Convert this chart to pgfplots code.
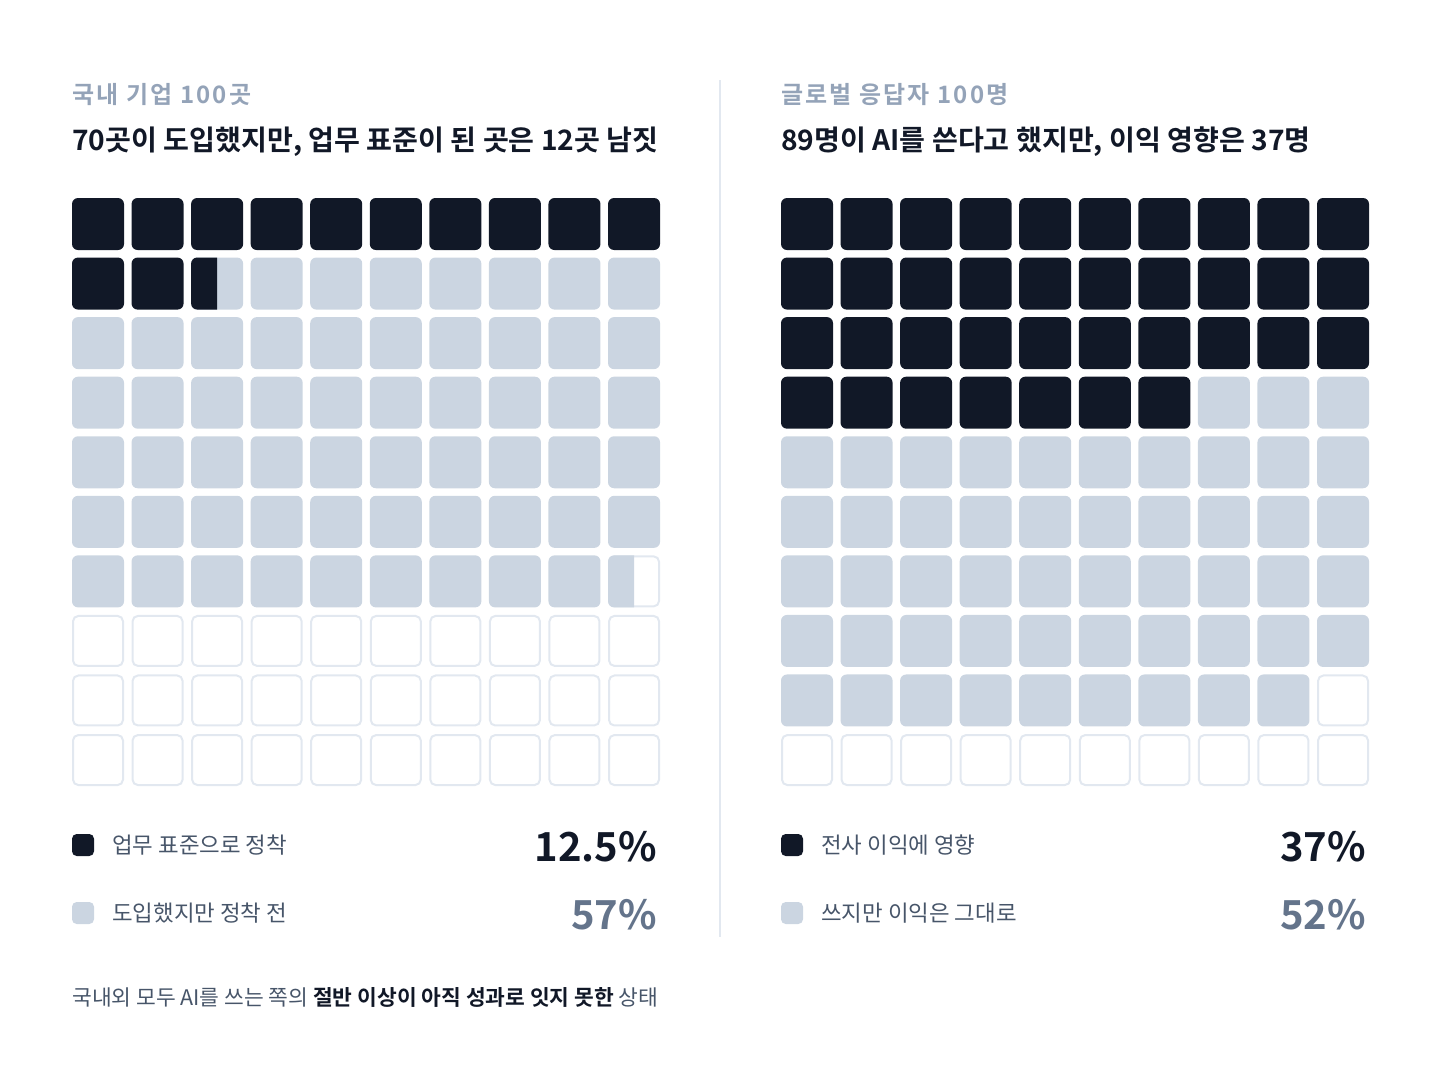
\documentclass[border=0pt]{standalone}
\usepackage{pgfplots}
\pgfplotsset{compat=1.18}
\usepackage{pgfplotstable}
\usepackage{fontspec}
\setmainfont{Noto Sans CJK KR}[BoldFont={Noto Sans CJK KR Bold}]
\definecolor{dark}{HTML}{111827}
\definecolor{lite}{HTML}{CBD5E1}
\definecolor{empt}{HTML}{E2E8F0}
\definecolor{subc}{HTML}{94A3B8}
\definecolor{legc}{HTML}{475569}
\definecolor{pctc}{HTML}{64748B}

% rounded rectangle path from (#1,#2) to (#3,#4)
\newcommand\rrect[4]{%
  \pgfpathmoveto{\pgfpoint{0pt}{#2}}%
  \pgfpathlineto{\pgfpoint{#3}{#2}}%
  \pgfpathlineto{\pgfpoint{#3}{#4}}%
  \pgfpathlineto{\pgfpoint{#1}{#4}}%
  \pgfpathlineto{\pgfpoint{#1}{#2}}%
  \pgfpathclose}

\pgfdeclareplotmark{cell}{%
  \begin{pgfscope}
  \pgfsetcornersarced{\pgfpoint{4.5pt}{4.5pt}}%
  \rrect{-19.5pt}{-19.5pt}{19.5pt}{19.5pt}%
  \pgfusepath{fill}%
  \end{pgfscope}}
\pgfdeclareplotmark{ecell}{%
  \begin{pgfscope}
  \pgfsetlinewidth{1.5pt}%
  \pgfsetcornersarced{\pgfpoint{4pt}{4pt}}%
  \rrect{-18.75pt}{-18.75pt}{18.75pt}{18.75pt}%
  \pgfusepath{fill,stroke}%
  \end{pgfscope}}
\pgfdeclareplotmark{halfL}{%
  \begin{pgfscope}
  \pgfpathrectangle{\pgfpoint{-20pt}{-20pt}}{\pgfpoint{20pt}{40pt}}%
  \pgfusepath{clip}%
  \pgfsetcornersarced{\pgfpoint{4.5pt}{4.5pt}}%
  \rrect{-19.5pt}{-19.5pt}{19.5pt}{19.5pt}%
  \pgfusepath{fill}%
  \end{pgfscope}}
\pgfdeclareplotmark{lsq}{%
  \begin{pgfscope}
  \pgfsetcornersarced{\pgfpoint{3.5pt}{3.5pt}}%
  \rrect{-8.25pt}{-8.25pt}{8.25pt}{8.25pt}%
  \pgfusepath{fill}%
  \end{pgfscope}}

% ---- left waffle (r = row, c = column) ----
\pgfplotstableread{
r c
1 1
1 2
1 3
1 4
1 5
1 6
1 7
1 8
1 9
1 10
2 1
2 2
}\Ldark
\pgfplotstableread{
r c
2 3
}\Lhalfdark
\pgfplotstableread{
r c
2 3
2 4
2 5
2 6
2 7
2 8
2 9
2 10
3 1
3 2
3 3
3 4
3 5
3 6
3 7
3 8
3 9
3 10
4 1
4 2
4 3
4 4
4 5
4 6
4 7
4 8
4 9
4 10
5 1
5 2
5 3
5 4
5 5
5 6
5 7
5 8
5 9
5 10
6 1
6 2
6 3
6 4
6 5
6 6
6 7
6 8
6 9
6 10
7 1
7 2
7 3
7 4
7 5
7 6
7 7
7 8
7 9
}\Llite
\pgfplotstableread{
r c
7 10
}\Lhalflite
\pgfplotstableread{
r c
7 10
8 1
8 2
8 3
8 4
8 5
8 6
8 7
8 8
8 9
8 10
9 1
9 2
9 3
9 4
9 5
9 6
9 7
9 8
9 9
9 10
10 1
10 2
10 3
10 4
10 5
10 6
10 7
10 8
10 9
10 10
}\Lempty

% ---- right waffle ----
\pgfplotstableread{
r c
1 1
1 2
1 3
1 4
1 5
1 6
1 7
1 8
1 9
1 10
2 1
2 2
2 3
2 4
2 5
2 6
2 7
2 8
2 9
2 10
3 1
3 2
3 3
3 4
3 5
3 6
3 7
3 8
3 9
3 10
4 1
4 2
4 3
4 4
4 5
4 6
4 7
}\Rdark
\pgfplotstableread{
r c
4 8
4 9
4 10
5 1
5 2
5 3
5 4
5 5
5 6
5 7
5 8
5 9
5 10
6 1
6 2
6 3
6 4
6 5
6 6
6 7
6 8
6 9
6 10
7 1
7 2
7 3
7 4
7 5
7 6
7 7
7 8
7 9
7 10
8 1
8 2
8 3
8 4
8 5
8 6
8 7
8 8
8 9
8 10
9 1
9 2
9 3
9 4
9 5
9 6
9 7
9 8
9 9
}\Rlite
\pgfplotstableread{
r c
9 10
10 1
10 2
10 3
10 4
10 5
10 6
10 7
10 8
10 9
10 10
}\Rempty

\begin{document}
\begin{tikzpicture}
\begin{axis}[
  x=0.75pt, y=0.75pt, y dir=reverse,
  xmin=0, xmax=1440, ymin=0, ymax=1076,
  hide axis, clip=false, scale only axis,
]
\path (axis cs:0,0) rectangle (axis cs:1440,1076);
% left grid: column centres 98 + (c-1)*59.56, row centres 224 + (r-1)*59.56
\addplot[only marks, mark=ecell, mark options={fill=white, draw=empt}]
  table[x expr=98+(\thisrow{c}-1)*59.56, y expr=224+(\thisrow{r}-1)*59.56] {\Lempty};
\addplot[only marks, mark=cell, mark options={fill=dark, draw=none}]
  table[x expr=98+(\thisrow{c}-1)*59.56, y expr=224+(\thisrow{r}-1)*59.56] {\Ldark};
\addplot[only marks, mark=cell, mark options={fill=lite, draw=none}]
  table[x expr=98+(\thisrow{c}-1)*59.56, y expr=224+(\thisrow{r}-1)*59.56] {\Llite};
\addplot[only marks, mark=halfL, mark options={fill=dark, draw=none}]
  table[x expr=98+(\thisrow{c}-1)*59.56, y expr=224+(\thisrow{r}-1)*59.56] {\Lhalfdark};
\addplot[only marks, mark=halfL, mark options={fill=lite, draw=none}]
  table[x expr=98+(\thisrow{c}-1)*59.56, y expr=224+(\thisrow{r}-1)*59.56] {\Lhalflite};
% right grid
\addplot[only marks, mark=ecell, mark options={fill=white, draw=empt}]
  table[x expr=807+(\thisrow{c}-1)*59.56, y expr=224+(\thisrow{r}-1)*59.56] {\Rempty};
\addplot[only marks, mark=cell, mark options={fill=dark, draw=none}]
  table[x expr=807+(\thisrow{c}-1)*59.56, y expr=224+(\thisrow{r}-1)*59.56] {\Rdark};
\addplot[only marks, mark=cell, mark options={fill=lite, draw=none}]
  table[x expr=807+(\thisrow{c}-1)*59.56, y expr=224+(\thisrow{r}-1)*59.56] {\Rlite};
% legend squares
\addplot[only marks, mark=lsq, mark options={fill=dark, draw=none}] coordinates {(83,845) (792,845)};
\addplot[only marks, mark=lsq, mark options={fill=lite, draw=none}] coordinates {(83,913) (792,913)};
% divider
\draw[empt, line width=1.2pt] (axis cs:720,80) -- (axis cs:720,937);
% titles
\node[anchor=base west, inner sep=0pt, text=subc, font=\fontsize{18}{20}\selectfont\bfseries\addfontfeature{LetterSpace=9}] at (axis cs:72,103) {국내 기업 100곳};
\node[anchor=base west, inner sep=0pt, text=dark, font=\fontsize{21.1}{24}\selectfont\bfseries] at (axis cs:72,150) {70곳이 도입했지만, 업무 표준이 된 곳은 12곳 남짓};
\node[anchor=base west, inner sep=0pt, text=subc, font=\fontsize{18}{20}\selectfont\bfseries\addfontfeature{LetterSpace=9}] at (axis cs:781,103) {글로벌 응답자 100명};
\node[anchor=base west, inner sep=0pt, text=dark, font=\fontsize{21.1}{24}\selectfont\bfseries] at (axis cs:781,150) {89명이 AI를 쓴다고 했지만, 이익 영향은 37명};
% legends
\node[anchor=west, inner sep=0pt, text=legc, font=\fontsize{16.8}{19}\selectfont] at (axis cs:112,845) {업무 표준으로 정착};
\node[anchor=west, inner sep=0pt, text=legc, font=\fontsize{16.8}{19}\selectfont] at (axis cs:112,913) {도입했지만 정착 전};
\node[anchor=west, inner sep=0pt, text=legc, font=\fontsize{16.8}{19}\selectfont] at (axis cs:821,845) {전사 이익에 영향};
\node[anchor=west, inner sep=0pt, text=legc, font=\fontsize{16.8}{19}\selectfont] at (axis cs:821,913) {쓰지만 이익은 그대로};
\node[anchor=base east, inner sep=0pt, text=dark, font=\fontsize{30}{34}\selectfont\bfseries] at (axis cs:657,861) {12.5\%};
\node[anchor=base east, inner sep=0pt, text=pctc, font=\fontsize{30}{34}\selectfont\bfseries] at (axis cs:657,929) {57\%};
\node[anchor=base east, inner sep=0pt, text=dark, font=\fontsize{30}{34}\selectfont\bfseries] at (axis cs:1366,861) {37\%};
\node[anchor=base east, inner sep=0pt, text=pctc, font=\fontsize{30}{34}\selectfont\bfseries] at (axis cs:1366,929) {52\%};
% footnote
\node[anchor=west, inner sep=0pt, text=legc, font=\fontsize{16.1}{19}\selectfont] at (axis cs:72,997) {국내외 모두 AI를 쓰는 쪽의 \textcolor{dark}{\bfseries 절반 이상이 아직 성과로 잇지 못한} 상태};
\end{axis}
\end{tikzpicture}
\end{document}
